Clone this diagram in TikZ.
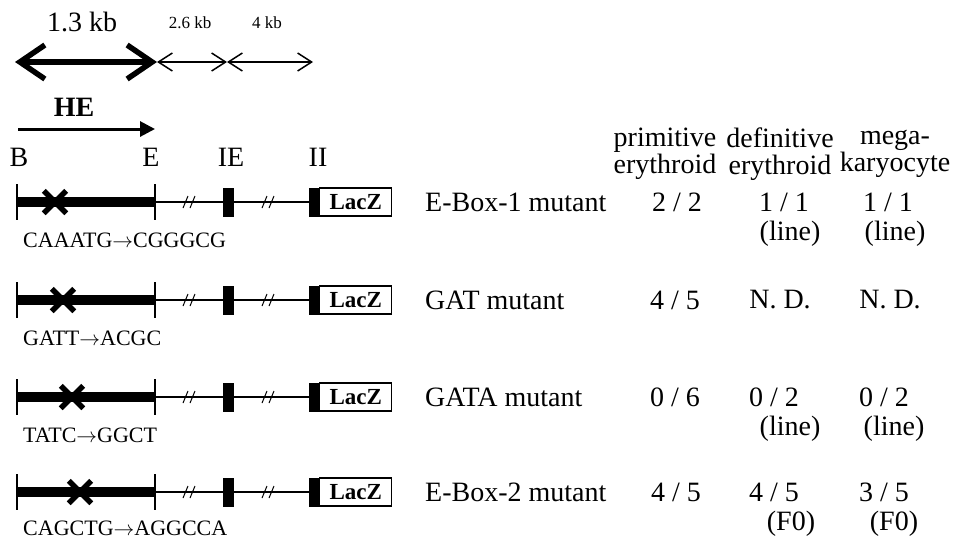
\documentclass[tikz,border=0pt]{standalone}
\usepackage{fontspec}
\setmainfont{Liberation Serif}
\usepackage{tikz}
\usetikzlibrary{positioning, arrows.meta, shapes.misc}
\tikzset{
    lbl/.style = {inner sep=0pt, font=\fontsize{28}{27}\selectfont},
    kblbl/.style = {inner sep=0pt, font=\fontsize{17}{18}\selectfont},
    seqlbl/.style = {inner sep=0pt, anchor=west, font=\fontsize{22}{24}\selectfont},
    bigarrow/.style = {{Straight Barb[length=25pt,width=34pt]}-{Straight Barb[length=25pt,width=34pt]}, line width=5.5pt},
    kbarrow/.style = {{Straight Barb[length=14pt,width=18pt]}-{Straight Barb[length=14pt,width=18pt]}, line width=1.5pt},
    hearrow/.style = {-{Triangle[length=15pt,width=15pt]}, line width=3pt},
    enh/.style = {line width=10pt},
    thinline/.style = {line width=1.5pt},
    tick/.style = {line width=1.2pt},
    exon/.style = {draw, fill=black, minimum width=10pt, minimum height=28pt, inner sep=0pt},
    lacz/.style = {draw, line width=1.2pt, minimum width=72pt, minimum height=28pt, inner sep=0pt,
                   font=\bfseries\fontsize{23}{24}\selectfont},
    mut/.style = {cross out, draw, line width=5.5pt, minimum size=17pt, inner sep=0pt},
    brk/.pic = {\draw[line width=1pt] (-6,6) -- (-1,-6) (1,6) -- (6,-6);},
}
\begin{document}
\begin{tikzpicture}[x=1pt, y=-1pt]
        \useasboundingbox (0,0) rectangle (959,550);
        % scale of the fragments
        \node[lbl] (kb1) at (82,22) {1.3 kb};
        \node[kblbl] (kb2) at (190,23) {2.6 kb};
        \node[kblbl] (kb3) at (267,23) {4 kb};
        \coordinate (a0) at (15,62);
        \coordinate (a1) at (157,62);
        \coordinate (a2) at (227,62);
        \coordinate (a3) at (313,62);
        \draw[bigarrow] (a0) -- (a1);
        \draw[kbarrow] (a1) -- (a2);
        \draw[kbarrow] (a2) -- (a3);
        % HE fragment
        \node[lbl, font=\bfseries\fontsize{28}{28}\selectfont] (he) at (74,107) {HE};
        \coordinate (h0) at (18,129);
        \coordinate (h1) at (155,129);
        \draw[hearrow] (h0) -- (h1);
        \node[lbl] (lB) at (19,157) {B};
        \node[lbl] (lE) at (151,157) {E};
        \node[lbl] (lIE) at (231,157) {IE};
        \node[lbl] (lII) at (318,157) {II};
        % constructs
        \foreach \i/\y/\m in {1/202/55, 2/300/63, 3/397/72, 4/492/80} {
            \coordinate (B\i) at (17,\y);
            \coordinate (E\i) at (155,\y);
            \draw[tick] (17,\y-18) -- (17,\y+18);
            \draw[tick] (155,\y-18) -- (155,\y+18);
            \draw[enh] (B\i) -- (E\i);
            \node[mut] (x\i) at (\m,\y) {};
            \node[exon] (ie\i) at (228,\y) {};
            \node[exon] (lz\i) at (314,\y) {};
            \node[lacz, right=0pt of lz\i] (lacz\i) {LacZ};
            \draw[thinline] (E\i) -- (ie\i) -- (lz\i);
            \pic at (189,\y) {brk};
            \pic at (268,\y) {brk};
        }
        \node[seqlbl] (seq1) at (23,240) {CAAATG$\rightarrow$CGGGCG};
        \node[seqlbl] (seq2) at (23,338) {GATT$\rightarrow$ACGC};
        \node[seqlbl] (seq3) at (23,435) {TATC$\rightarrow$GGCT};
        \node[seqlbl] (seq4) at (23,528) {CAGCTG$\rightarrow$AGGCCA};
        % table
        \node[lbl, align=center] (hp) at (665,154) {primitive\\erythroid};
        \node[lbl, align=center] (hd) at (780,154) {definitive\\erythroid};
        \node[lbl, align=center] (hm) at (895,154) {mega-\\karyocyte};
        \node[lbl, anchor=west] (name1) at (425,202) {E-Box-1 mutant};
        \node[lbl] (p1) at (677,202) {2 / 2};
        \node[lbl] (d1) at (784,202) {1 / 1};
        \node[lbl] (m1) at (888,202) {1 / 1};
        \node[lbl] (dn1) at (790,234) {(line)};
        \node[lbl] (mn1) at (895,234) {(line)};
        \node[lbl, anchor=west] (name2) at (425,300) {GAT mutant};
        \node[lbl] (p2) at (675,300) {4 / 5};
        \node[lbl] (d2) at (780,300) {N. D.};
        \node[lbl] (m2) at (890,300) {N. D.};
        \node[lbl, anchor=west] (name3) at (425,397) {GATA mutant};
        \node[lbl] (p3) at (675,397) {0 / 6};
        \node[lbl] (d3) at (774,397) {0 / 2};
        \node[lbl] (m3) at (884,397) {0 / 2};
        \node[lbl] (dn3) at (790,429) {(line)};
        \node[lbl] (mn3) at (894,429) {(line)};
        \node[lbl, anchor=west] (name4) at (425,492) {E-Box-2 mutant};
        \node[lbl] (p4) at (676,492) {4 / 5};
        \node[lbl] (d4) at (774,492) {4 / 5};
        \node[lbl] (m4) at (884,492) {3 / 5};
        \node[lbl] (dn4) at (791,524) {(F0)};
        \node[lbl] (mn4) at (894,524) {(F0)};
\end{tikzpicture}
\end{document}
